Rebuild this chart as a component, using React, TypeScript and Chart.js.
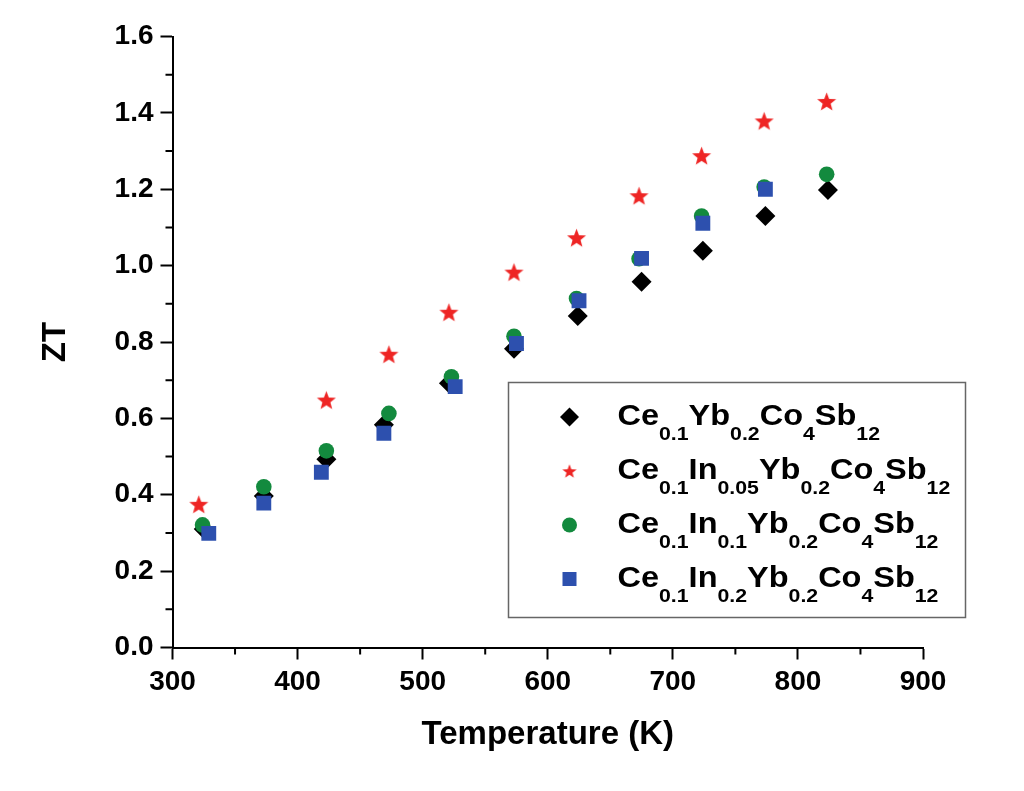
import { Chart, Plugin, registerables } from "chart.js";
import { useEffect, useRef } from "react";

Chart.register(...registerables);

const FONT = '"Liberation Sans", Arial, Helvetica, sans-serif';

// legend names, "_{...}" marks a subscript
const seriesNames = [
  "Ce_{0.1}Yb_{0.2}Co_{4}Sb_{12}",
  "Ce_{0.1}In_{0.05}Yb_{0.2}Co_{4}Sb_{12}",
  "Ce_{0.1}In_{0.1}Yb_{0.2}Co_{4}Sb_{12}",
  "Ce_{0.1}In_{0.2}Yb_{0.2}Co_{4}Sb_{12}",
];
const seriesColors = ["#000000", "#ee2524", "#138a3e", "#2d50ae"];

// Ce0.1Yb0.2Co4Sb12
const tempYb = [325, 373, 423, 469, 521, 573, 624, 675, 724, 774, 824];
const ztYb = [0.31, 0.397, 0.493, 0.583, 0.692, 0.782, 0.868, 0.958, 1.039, 1.13, 1.198];
// Ce0.1In0.05Yb0.2Co4Sb12
const tempIn005 = [321, 423, 473, 521, 573, 623, 673, 723, 773, 823];
const ztIn005 = [0.375, 0.648, 0.768, 0.878, 0.983, 1.073, 1.183, 1.288, 1.379, 1.43];
// Ce0.1In0.1Yb0.2Co4Sb12
const tempIn01 = [324, 373, 423, 473, 523, 573, 623, 673, 723, 773, 823];
const ztIn01 = [0.321, 0.421, 0.515, 0.613, 0.709, 0.815, 0.914, 1.018, 1.13, 1.206, 1.239];
// Ce0.1In0.2Yb0.2Co4Sb12
const tempIn02 = [329, 373, 419, 469, 526, 575, 625, 675, 724, 774];
const ztIn02 = [0.299, 0.378, 0.459, 0.561, 0.683, 0.796, 0.908, 1.019, 1.111, 1.2];

const xMinorTicks = [350, 450, 550, 650, 750, 850];
const yMinorTicks = [0.1, 0.3, 0.5, 0.7, 0.9, 1.1, 1.3, 1.5];

// filled five-pointed star, Chart.js has only a line star
function makeStar(size: number, color: string) {
  const c = document.createElement("canvas");
  c.width = size;
  c.height = size;
  const ctx = c.getContext("2d")!;
  const R = size / 2 - 0.5;
  const r = R * 0.42;
  const cx = size / 2;
  const cy = size / 2 + R * 0.095;
  ctx.beginPath();
  for (let i = 0; i < 10; i++) {
    const rad = i % 2 ? r : R;
    const a = -Math.PI / 2 + (i * Math.PI) / 5;
    ctx.lineTo(cx + rad * Math.cos(a), cy + rad * Math.sin(a));
  }
  ctx.closePath();
  ctx.fillStyle = color;
  ctx.fill();
  return c;
}

const toPoints = (xs: number[], ys: number[]) => xs.map((x, i) => ({ x, y: ys[i] }));

function splitSub(name: string): [string, boolean][] {
  const parts: [string, boolean][] = [];
  name.split(/_\{([^}]*)\}/).forEach((p, i) => {
    if (p) parts.push([p, i % 2 === 1]);
  });
  return parts;
}

const minorTicks: Plugin = {
  id: "minorTicks",
  afterDraw(chart) {
    const { ctx, chartArea, scales } = chart;
    ctx.save();
    ctx.strokeStyle = "#000";
    ctx.lineWidth = 2;
    ctx.beginPath();
    xMinorTicks.forEach((v) => {
      const px = scales.x.getPixelForValue(v);
      ctx.moveTo(px, chartArea.bottom);
      ctx.lineTo(px, chartArea.bottom + 7);
    });
    yMinorTicks.forEach((v) => {
      const py = scales.y.getPixelForValue(v);
      ctx.moveTo(chartArea.left, py);
      ctx.lineTo(chartArea.left - 7, py);
    });
    ctx.stroke();
    ctx.restore();
  },
};

const subLegend: Plugin = {
  id: "subLegend",
  afterDraw(chart) {
    const { ctx, chartArea } = chart;
    const left = chartArea.left + 336;
    const top = chartArea.top + 346;
    ctx.save();
    ctx.fillStyle = "#fff";
    ctx.fillRect(left, top, 457, 235);
    ctx.strokeStyle = "#666";
    ctx.lineWidth = 1.5;
    ctx.strokeRect(left, top, 457, 235);
    seriesNames.forEach((name, i) => {
      const y = top + 34.5 + i * 54;
      const mx = left + 61;
      ctx.fillStyle = seriesColors[i];
      ctx.beginPath();
      if (i === 0) {
        ctx.moveTo(mx, y - 9.5);
        ctx.lineTo(mx + 9.5, y);
        ctx.lineTo(mx, y + 9.5);
        ctx.lineTo(mx - 9.5, y);
        ctx.closePath();
        ctx.fill();
      } else if (i === 1) {
        const s = makeStar(16, seriesColors[1]);
        ctx.drawImage(s, mx - 8, y - 8);
      } else if (i === 2) {
        ctx.arc(mx, y, 7.5, 0, Math.PI * 2);
        ctx.fill();
      } else {
        ctx.fillRect(mx - 7, y - 7, 14, 14);
      }
      // the label face in the figure is a little wider than Arial
      ctx.save();
      ctx.translate(left + 109, 0);
      ctx.scale(1.12, 1);
      ctx.fillStyle = "#000";
      ctx.textBaseline = "alphabetic";
      let x = 0;
      splitSub(name).forEach(([txt, sub]) => {
        ctx.font = sub ? `bold 19px ${FONT}` : `bold 29px ${FONT}`;
        ctx.fillText(txt, x, sub ? y + 23 : y + 8);
        x += ctx.measureText(txt).width;
      });
      ctx.restore();
    });
    ctx.restore();
  },
};

const App: React.FC = () => {
  const chartRef = useRef<HTMLCanvasElement | null>(null);
  const chartInstanceRef = useRef<Chart | null>(null);

  useEffect(() => {
    if (!chartRef.current) return;
    if (chartInstanceRef.current) chartInstanceRef.current.destroy();

    Chart.defaults.font.family = FONT;
    Chart.defaults.color = "#000";

    const star = makeStar(21, seriesColors[1]);

    chartInstanceRef.current = new Chart(chartRef.current, {
      type: "scatter",
      data: {
        datasets: [
          {
            label: seriesNames[0],
            data: toPoints(tempYb, ztYb),
            pointStyle: "rectRot",
            pointRadius: 10,
            backgroundColor: seriesColors[0],
            borderWidth: 0,
            order: 3,
          },
          {
            label: seriesNames[1],
            data: toPoints(tempIn005, ztIn005),
            pointStyle: star,
            pointRadius: 10,
            backgroundColor: seriesColors[1],
            borderWidth: 0,
            order: 2,
          },
          {
            label: seriesNames[2],
            data: toPoints(tempIn01, ztIn01),
            pointStyle: "circle",
            pointRadius: 7.8,
            backgroundColor: seriesColors[2],
            borderWidth: 0,
            order: 1,
          },
          {
            label: seriesNames[3],
            data: toPoints(tempIn02, ztIn02),
            pointStyle: "rect",
            pointRadius: 10.5,
            backgroundColor: seriesColors[3],
            borderWidth: 0,
            order: 0,
          },
        ],
      },
      options: {
        animation: false,
        responsive: true,
        maintainAspectRatio: false,
        layout: { padding: { top: 36.5, right: 101, left: 0, bottom: 0 } },
        plugins: {
          legend: { display: false },
          tooltip: { enabled: false },
        },
        scales: {
          x: {
            type: "linear",
            min: 300,
            max: 900,
            afterFit: (scale) => {
              scale.height = 143.5;
            },
            ticks: {
              stepSize: 100,
              padding: 6,
              font: { size: 28, weight: "bold" },
              color: "#000",
            },
            grid: {
              drawOnChartArea: false,
              tickLength: 12,
              tickWidth: 2,
              tickColor: "#000",
            },
            border: { color: "#000", width: 2 },
            title: {
              display: true,
              text: "Temperature (K)",
              font: { size: 33, weight: "bold" },
              color: "#000",
              padding: { top: 0, bottom: 36 },
            },
          },
          y: {
            type: "linear",
            min: 0,
            max: 1.6,
            afterFit: (scale) => {
              scale.width = 172.5;
            },
            ticks: {
              stepSize: 0.2,
              padding: 7,
              font: { size: 28, weight: "bold" },
              color: "#000",
              callback: (v) => Number(v).toFixed(1),
            },
            grid: {
              drawOnChartArea: false,
              tickLength: 12,
              tickWidth: 2,
              tickColor: "#000",
            },
            border: { color: "#000", width: 2 },
            title: {
              display: true,
              text: "ZT",
              font: { size: 33, weight: "bold" },
              color: "#000",
              padding: { top: 36, bottom: 0 },
            },
          },
        },
      },
      plugins: [minorTicks, subLegend],
    });

    return () => {
      if (chartInstanceRef.current) {
        chartInstanceRef.current.destroy();
        chartInstanceRef.current = null;
      }
    };
  }, []);

  return (
    <div style={{ position: "fixed", left: 0, top: 0, width: 1024, height: 791, background: "#fff" }}>
      <canvas ref={chartRef} />
    </div>
  );
};

export default App;
